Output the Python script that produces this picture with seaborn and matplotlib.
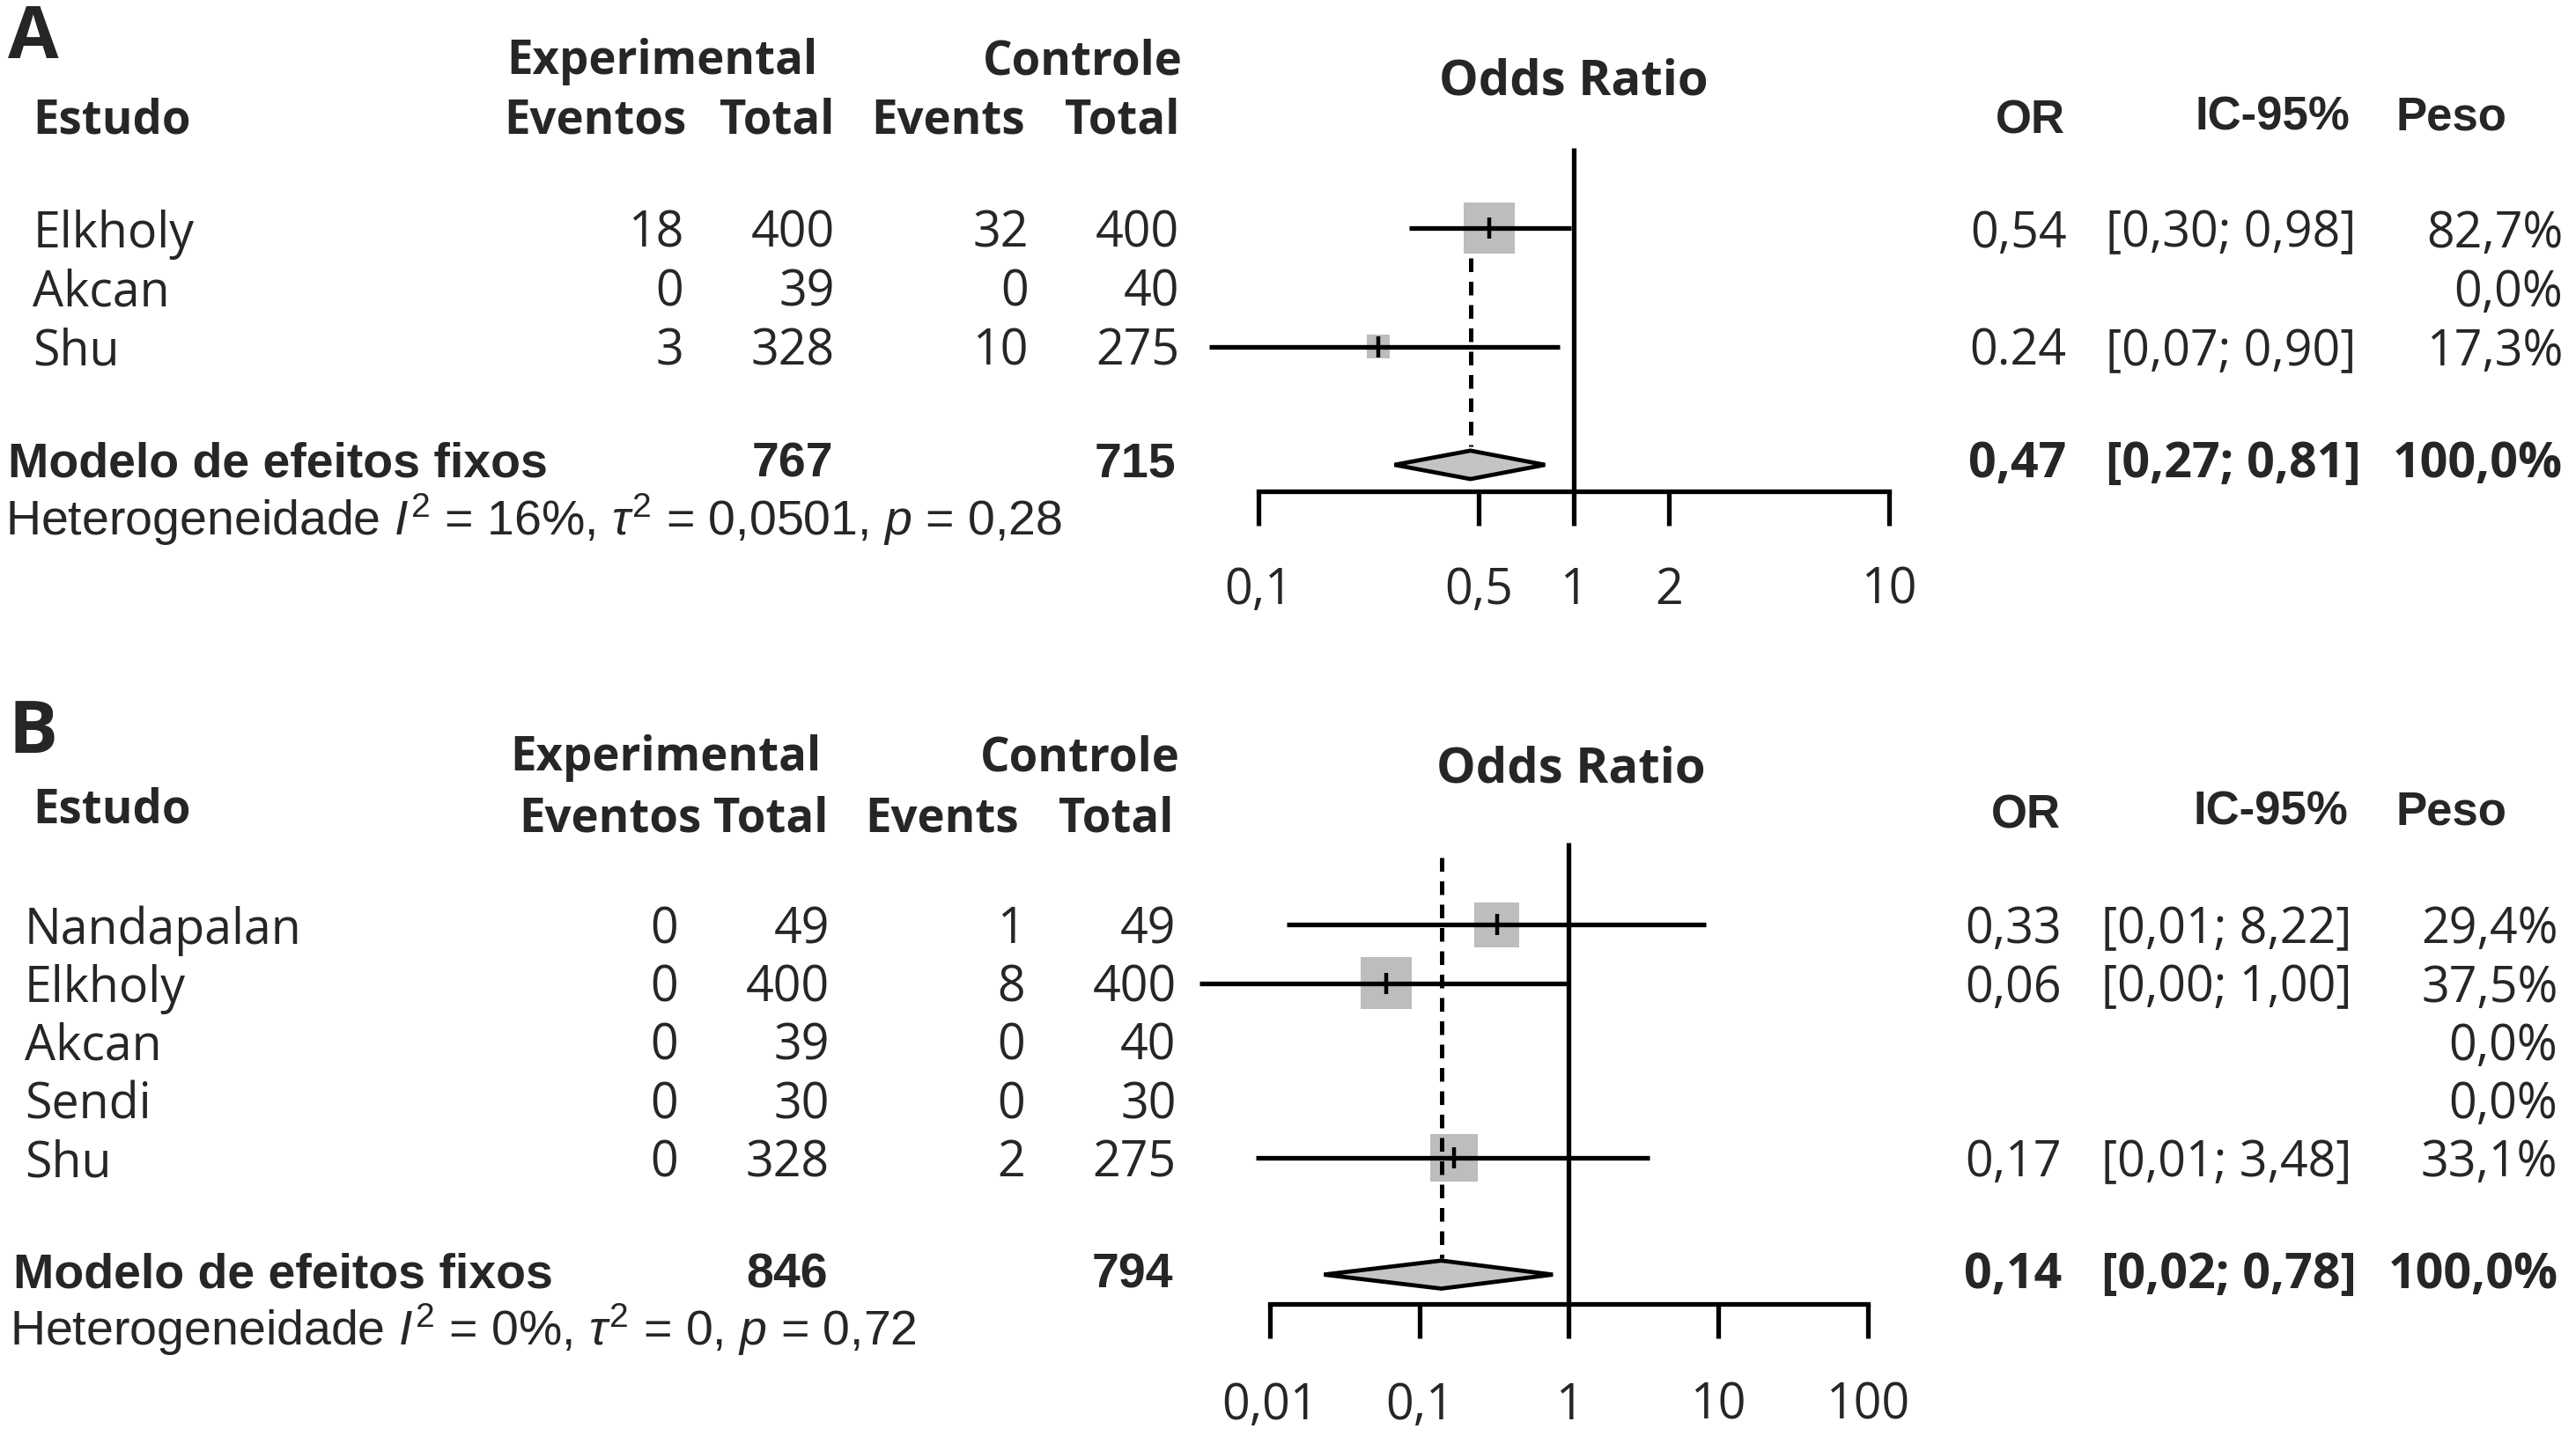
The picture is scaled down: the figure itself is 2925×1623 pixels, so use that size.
import numpy as np
import pandas as pd
import matplotlib
matplotlib.use('Agg')
import matplotlib.pyplot as plt
from matplotlib.ticker import NullLocator
import seaborn as sns

# ---------- panel A ----------
studies_a = ['Elkholy', 'Akcan', 'Shu']
exp_events_a = [18, 0, 3]
exp_total_a = [400, 39, 328]
ctl_events_a = [32, 0, 10]
ctl_total_a = [400, 40, 275]
or_a = [0.54, np.nan, 0.24]
ci_low_a = [0.30, np.nan, 0.07]
ci_high_a = [0.98, np.nan, 0.90]
weight_a = [82.7, 0.0, 17.3]
or_text_a = ['0,54', '', '0.24']
ci_text_a = ['[0,30; 0,98]', '', '[0,07; 0,90]']
weight_text_a = ['82,7%', '0,0%', '17,3%']
pooled_a = [0.47, 0.27, 0.81]
pooled_text_a = ['0,47', '[0,27; 0,81]', '100,0%']
totals_a = ['767', '715']
het_a = r'Heterogeneidade $I^2$ = 16%, $\tau^2$ = 0,0501, $p$ = 0,28'
ticks_a = [0.1, 0.5, 1, 2, 10]
tick_labels_a = ['0,1', '0,5', '1', '2', '10']

# ---------- panel B ----------
studies_b = ['Nandapalan', 'Elkholy', 'Akcan', 'Sendi', 'Shu']
exp_events_b = [0, 0, 0, 0, 0]
exp_total_b = [49, 400, 39, 30, 328]
ctl_events_b = [1, 8, 0, 0, 2]
ctl_total_b = [49, 400, 40, 30, 275]
or_b = [0.33, 0.06, np.nan, np.nan, 0.17]
ci_low_b = [0.013, 0.0034, np.nan, np.nan, 0.008]
ci_high_b = [8.22, 1.00, np.nan, np.nan, 3.48]
weight_b = [29.4, 37.5, 0.0, 0.0, 33.1]
or_text_b = ['0,33', '0,06', '', '', '0,17']
ci_text_b = ['[0,01; 8,22]', '[0,00; 1,00]', '', '', '[0,01; 3,48]']
weight_text_b = ['29,4%', '37,5%', '0,0%', '0,0%', '33,1%']
pooled_b = [0.14, 0.023, 0.78]
pooled_text_b = ['0,14', '[0,02; 0,78]', '100,0%']
totals_b = ['846', '794']
het_b = r'Heterogeneidade $I^2$ = 0%, $\tau^2$ = 0, $p$ = 0,72'
ticks_b = [0.01, 0.1, 1, 10, 100]
tick_labels_b = ['0,01', '0,1', '1', '10', '100']

sns.set_style('white')
plt.rcParams['font.family'] = ['Open Sans', 'DejaVu Sans']
plt.rcParams['mathtext.fontset'] = 'custom'
plt.rcParams['mathtext.rm'] = 'Liberation Sans'
plt.rcParams['mathtext.it'] = 'Liberation Sans:italic'

SEGOE = ['Open Sans', 'DejaVu Sans']
ARIAL = ['Liberation Sans', 'DejaVu Sans']
GRAY = '#bdbdbd'
W, H = 1568.0, 870.0  # layout grid (reference at ~0.536 scale)
LW = 3.8

fig = plt.figure(figsize=(29.25, 16.23), dpi=100)


def put(ax, x, r, s, ha='left', bold=False, fam=SEGOE, size=40):
    # small downward nudge: matplotlib centres on the box incl. descent
    ax.text(x, r + 0.1, s, ha=ha, va='center', fontsize=size,
            fontweight='bold' if bold else 'normal', family=fam)


def panel(lay, letter, studies, ee, et, ce, ct, ors, lo, hi, w,
          or_txt, ci_txt, w_txt, pooled, pooled_txt, totals, het,
          ticks, tick_labels):
    y0, dy, rtop, rbot = lay['y0'], lay['dy'], lay['rtop'], lay['rbot']
    bottom = 1 - (y0 + dy * rbot) / H
    height = dy * (rbot - rtop) / H

    def row(y):
        return (y - y0) / dy

    tax = fig.add_axes([0, bottom, 1, height])
    tax.set_xlim(0, W)
    tax.set_ylim(rbot, rtop)
    tax.axis('off')

    put(tax, 5, row(lay['letter_y']), letter, bold=True, size=60)
    put(tax, lay['exp_x'], row(lay['h1_y']), 'Experimental', ha='center', bold=True, size=38)
    put(tax, lay['cols'][3] + 2, row(lay['h1_y']), 'Controle', ha='right', bold=True, size=38)
    put(tax, 20, row(lay['est_y']), 'Estudo', bold=True, size=38)
    hdr = ['Eventos', 'Total', 'Events', 'Total']
    for x, s in zip(lay['hcols'], hdr):
        put(tax, x, row(lay['h2_y']), s, ha='right', bold=True, size=38)
    put(tax, lay['or_c'], row(lay['odds_y']), 'Odds Ratio', ha='center', bold=True, size=40.5)
    put(tax, lay['orh_x'], row(lay['rh_y']), 'OR', ha='center', bold=True, fam=ARIAL, size=38)
    put(tax, lay['ich_x'], row(lay['rh_y']) - 0.06, 'IC-95%', ha='center', bold=True, fam=ARIAL, size=38)
    put(tax, 1492, row(lay['rh_y']) - 0.06, 'Peso', ha='center', bold=True, fam=ARIAL, size=38)

    for i, name in enumerate(studies):
        put(tax, lay['name_x'], i, name)
        for x, v in zip(lay['cols'], [ee[i], et[i], ce[i], ct[i]]):
            put(tax, x, i, str(v), ha='right')
        put(tax, lay['orv_x'], i, or_txt[i], ha='right')
        put(tax, lay['orv_x'] + 24, i, ci_txt[i])
        put(tax, lay['peso_x'], i, w_txt[i], ha='right')

    srow = row(lay['sum_y'])
    put(tax, lay['sum_x'], srow, 'Modelo de efeitos fixos', bold=True, fam=ARIAL, size=40)
    put(tax, lay['cols'][1] - 1, srow, totals[0], ha='right', bold=True, fam=ARIAL, size=40)
    put(tax, lay['cols'][3] - 2, srow, totals[1], ha='right', bold=True, fam=ARIAL, size=40)
    put(tax, lay['orv_x'], srow, pooled_txt[0], ha='right', bold=True)
    put(tax, lay['orv_x'] + 24, srow, pooled_txt[1], bold=True)
    put(tax, lay['peso_x'], srow, pooled_txt[2], ha='right', bold=True)
    put(tax, lay['sum_x'] - 2, row(lay['het_y']), het, fam=ARIAL, size=40)

    # forest plot on a log scale
    c1, dec = lay['one_x'], lay['decade']
    xa, xb = 700, 1180
    fax = fig.add_axes([xa / W, bottom, (xb - xa) / W, height])
    fax.patch.set_alpha(0)
    fax.set_xscale('log')

    df = pd.DataFrame({'row': np.arange(len(studies)), 'or': ors,
                       'lo': lo, 'hi': hi, 'w': w}).dropna()
    sns.scatterplot(data=df, x='or', y='row', size='w', sizes=(0, 1750),
                    size_norm=(0, max(w)), marker='s', color=GRAY,
                    linewidth=0, legend=False, ax=fax, zorder=1)
    fax.hlines(df['row'], df['lo'], df['hi'], color='black', lw=LW, zorder=2)
    fax.scatter(df['or'], df['row'], marker='|', s=300, color='black',
                linewidths=3.2, zorder=3)

    drow = len(studies) + 1
    axis_row = row(lay['axis_y'])
    fax.vlines(1, row(lay['vtop_y']), axis_row, color='black', lw=LW, zorder=2)
    fax.vlines(pooled[0], row(lay['dash_y'][0]), row(lay['dash_y'][1]),
               color='black', lw=3.6, linestyles=(0, (3.1, 2.2)), zorder=2)
    hh = 0.24
    fax.fill([pooled[1], pooled[0], pooled[2], pooled[0]],
             [drow, drow - hh, drow, drow + hh],
             facecolor='#c4c4c4', edgecolor='black', lw=3.4, zorder=3)

    fax.set_xlim(10 ** ((xa - c1) / dec), 10 ** ((xb - c1) / dec))
    fax.set_ylim(rbot, rtop)
    for s in ['top', 'right', 'left']:
        fax.spines[s].set_visible(False)
    fax.spines['bottom'].set_position(('data', axis_row))
    fax.spines['bottom'].set_bounds(ticks[0], ticks[-1])
    fax.spines['bottom'].set_linewidth(LW)
    fax.spines['bottom'].set_color('black')
    fax.set_xticks(ticks, tick_labels)
    fax.xaxis.set_minor_locator(NullLocator())
    fax.set_yticks([])
    fax.tick_params(axis='x', length=28, width=LW, direction='out',
                    pad=lay['pad'], labelsize=40, color='black', bottom=True)
    fax.set_xlabel('')
    fax.set_ylabel('')


lay_a = dict(y0=139, dy=36, rtop=-3.8, rbot=6.7, letter_y=20, h1_y=34,
             est_y=70, h2_y=70, odds_y=46, rh_y=70, exp_x=403,
             hcols=[418, 508, 624, 718], cols=[416, 508, 626, 718],
             name_x=20, or_c=958, orh_x=1236, ich_x=1383, orv_x=1258,
             peso_x=1560, sum_x=5, sum_y=279, het_y=313, one_x=958,
             decade=192, axis_y=299, vtop_y=90, dash_y=(157, 272), pad=33)
lay_b = dict(y0=563, dy=35.5, rtop=-3.9, rbot=8.6, letter_y=443, h1_y=458,
             est_y=490, h2_y=495, odds_y=465, rh_y=493, exp_x=405,
             hcols=[427, 504, 620, 714], cols=[413, 505, 624, 716],
             name_x=15, or_c=956, orh_x=1233, ich_x=1382, orv_x=1255,
             peso_x=1557, sum_x=8, sum_y=773, het_y=806, one_x=955,
             decade=91, axis_y=794, vtop_y=513, dash_y=(522, 766), pad=35)

panel(lay_a, 'A', studies_a, exp_events_a, exp_total_a, ctl_events_a,
      ctl_total_a, or_a, ci_low_a, ci_high_a, weight_a, or_text_a,
      ci_text_a, weight_text_a, pooled_a, pooled_text_a, totals_a, het_a,
      ticks_a, tick_labels_a)
panel(lay_b, 'B', studies_b, exp_events_b, exp_total_b, ctl_events_b,
      ctl_total_b, or_b, ci_low_b, ci_high_b, weight_b, or_text_b,
      ci_text_b, weight_text_b, pooled_b, pooled_text_b, totals_b, het_b,
      ticks_b, tick_labels_b)

plt.savefig('out.png', dpi=100)
plt.close()
